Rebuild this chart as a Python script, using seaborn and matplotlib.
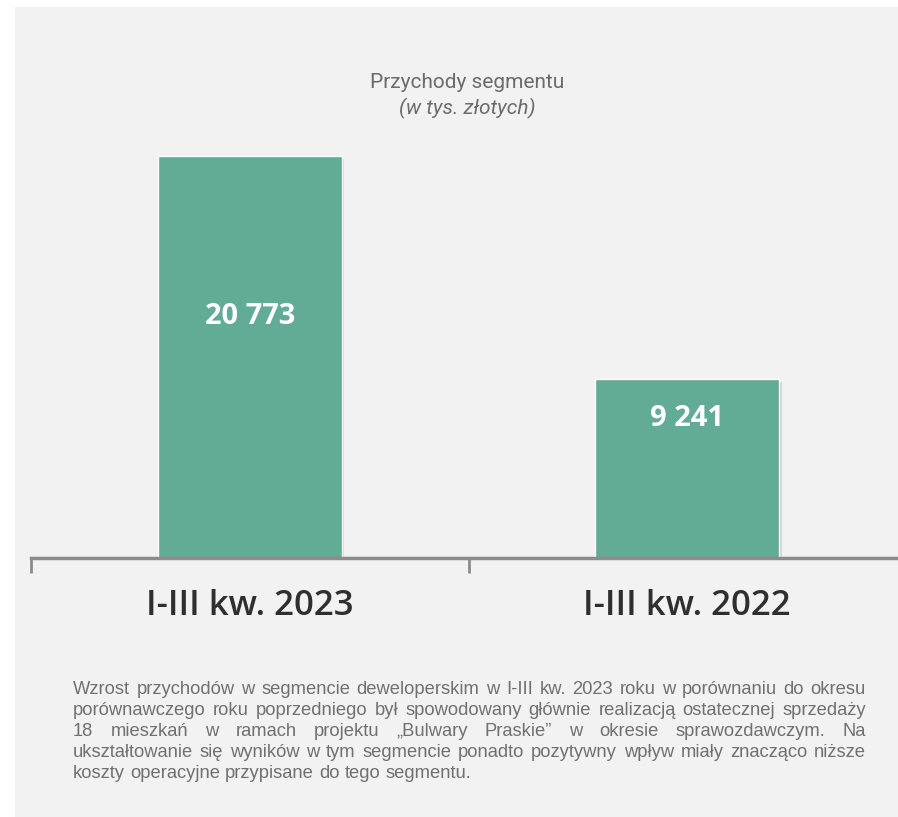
import matplotlib
matplotlib.use('Agg')
import matplotlib.pyplot as plt
from matplotlib.patches import Rectangle
import matplotlib.patheffects as pe
import seaborn as sns
import pandas as pd

# data
periods = ['I-III kw. 2023', 'I-III kw. 2022']
revenue = [20773, 9241]
value_labels = ['20 773', '9 241']
title = 'Przychody segmentu'
subtitle = '(w tys. złotych)'
note_lines = [
    'Wzrost przychodów w segmencie deweloperskim w I-III kw. 2023 roku w porównaniu do okresu',
    'porównawczego roku poprzedniego był spowodowany głównie realizacją ostatecznej sprzedaży',
    '18 mieszkań w ramach projektu „Bulwary Praskie” w okresie sprawozdawczym. Na',
    'ukształtowanie się wyników w tym segmencie ponadto pozytywny wpływ miały znacząco niższe',
    'koszty operacyjne przypisane do tego segmentu.',
]

sns.set_style('white')
plt.rcParams['font.family'] = ['Open Sans', 'DejaVu Sans']

W, H = 898, 817
fig = plt.figure(figsize=(W / 100, H / 100), dpi=100)
fig.patch.set_facecolor('white')
fig.patches.append(Rectangle((15 / W, 0), 1, 1 - 7 / H, transform=fig.transFigure,
                             facecolor='#f2f2f2', edgecolor='none', zorder=-10))

ymax = 22000
ax_h = 402 * ymax / revenue[0]
ax = fig.add_axes([31 / W, 1 - 558 / H, 875 / W, ax_h / H])
ax.set_facecolor('none')

df = pd.DataFrame({'period': periods, 'revenue': revenue})
sns.barplot(data=df, x='period', y='revenue', color='#62ab95', saturation=1,
            width=0.42, ax=ax)
for p in ax.patches:
    p.set_path_effects([pe.SimplePatchShadow(offset=(2, -2), shadow_rgbFace='#000000', alpha=0.12),
                        pe.Normal()])

ax.set_xlim(-0.5, 1.5)
ax.set_ylim(0, ymax)
ax.set_xlabel('')
ax.set_ylabel('')
ax.set_yticks([])
for s in ['top', 'right', 'left']:
    ax.spines[s].set_visible(False)
ax.spines['bottom'].set_color('#8c8c8c')
ax.spines['bottom'].set_linewidth(2.5)
ax.set_xticks(range(len(periods)))
ax.set_xticklabels(periods, fontsize=25, fontweight='semibold', color='#2f2f2f')
ax.tick_params(axis='x', which='major', length=0, pad=22)
ax.set_xticks([-0.5, 0.5, 1.5], minor=True)
ax.tick_params(axis='x', which='minor', bottom=True, length=11, width=2, color='#8c8c8c')

for i, (v, lab) in enumerate(zip(revenue, value_labels)):
    ypos = v * (0.6 if i == 0 else 0.78)
    ax.text(i, ypos, lab, ha='center', va='center', color='white',
            fontsize=21, fontweight='bold')

fig.text(467 / W, 1 - 82 / H, title, ha='center', va='center', fontsize=15,
         color='#6b6b6b', family=['Roboto', 'DejaVu Sans'])
fig.text(467 / W, 1 - 108 / H, subtitle, ha='center', va='center', fontsize=15,
         color='#6b6b6b', style='italic', family=['Roboto', 'DejaVu Sans'])

# justified note text
renderer = fig.canvas.get_renderer()
x0, x1 = 73, 866
fam = ['Liberation Sans', 'DejaVu Sans']
probe = fig.text(0, 0, note_lines[-1], fontsize=10, family=fam)
fs = 10 * 398 / probe.get_window_extent(renderer).width
probe.remove()

y_first = 694
lh = 21
for li, line in enumerate(note_lines):
    words = line.split(' ')
    y = 1 - (y_first + li * lh) / H
    objs = [fig.text(0, y, w, ha='left', va='baseline', fontsize=fs,
                     color='#707070', family=fam) for w in words]
    widths = [o.get_window_extent(renderer).width for o in objs]
    if li < len(note_lines) - 1 and len(words) > 1:
        gap = (x1 - x0 - sum(widths)) / (len(words) - 1)
    else:
        sp = fig.text(0, 0, 'a a', fontsize=fs, family=fam)
        sa = fig.text(0, 0, 'aa', fontsize=fs, family=fam)
        gap = sp.get_window_extent(renderer).width - sa.get_window_extent(renderer).width
        sp.remove()
        sa.remove()
    x = x0
    for o, w in zip(objs, widths):
        o.set_x(x / W)
        x += w + gap

fig.savefig('out.png', dpi=100)
